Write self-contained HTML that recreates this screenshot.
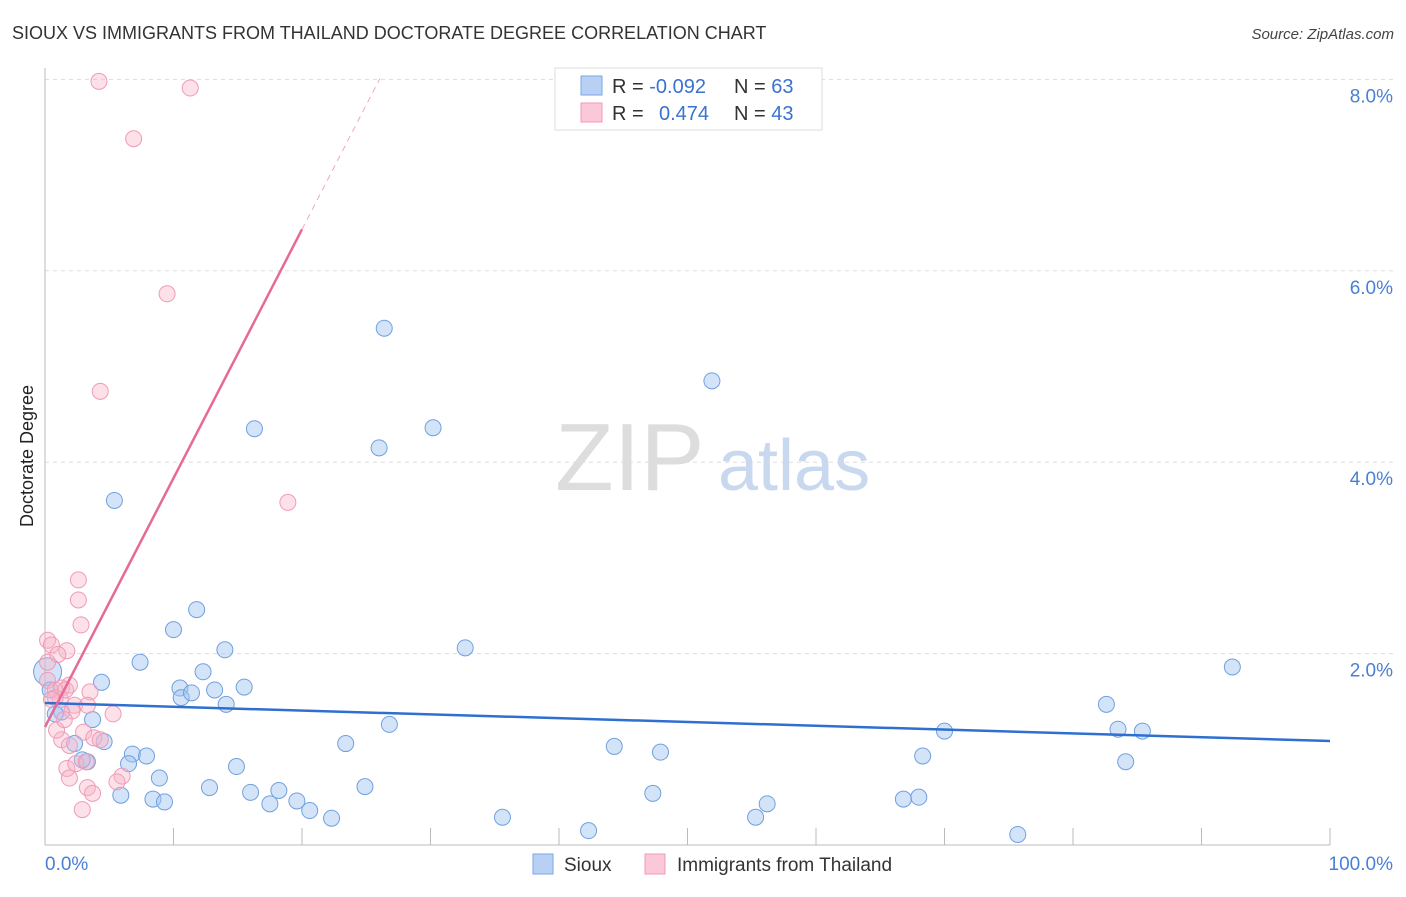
<!DOCTYPE html>
<html><head><meta charset="utf-8"><style>
body{margin:0;background:#fff;font-family:"Liberation Sans",sans-serif}
svg text{font-family:"Liberation Sans",sans-serif}
</style></head><body>
<svg id="chart" width="1406" height="892" viewBox="0 0 1406 892" xmlns="http://www.w3.org/2000/svg">
<text x="12" y="39" font-size="18" fill="#333">SIOUX VS IMMIGRANTS FROM THAILAND DOCTORATE DEGREE CORRELATION CHART</text>
<text x="1394" y="39" font-size="15" fill="#444" text-anchor="end" font-style="italic">Source: ZipAtlas.com</text>
<g id="grid"></g>
<g><text x="555" y="490" font-size="96" font-family="Liberation Serif" fill="#ddd">ZIP</text><text x="718" y="490" font-size="72" fill="#c8d8ee">atlas</text></g>
<text transform="translate(33,456) rotate(-90)" font-size="18" fill="#222" text-anchor="middle">Doctorate Degree</text>
<g id="marks"></g>
<g>
<rect x="555" y="68" width="267" height="62" fill="#fff" stroke="#ddd"/>
<rect x="581" y="76" width="21" height="19" fill="#b8d0f4" stroke="#7aa6e6"/>
<rect x="581" y="103" width="21" height="19" fill="#fac8d6" stroke="#f09ab8"/>
<text x="612" y="93" font-size="20" fill="#333">R = <tspan fill="#3a72d0">-0.092</tspan><tspan x="734">N = </tspan><tspan fill="#3a72d0">63</tspan></text>
<text x="612" y="120" font-size="20" fill="#333">R = <tspan x="659" fill="#3a72d0">0.474</tspan><tspan x="734">N = </tspan><tspan fill="#3a72d0">43</tspan></text>
</g>
<g>
<rect x="533" y="854" width="20" height="20" fill="#b8d0f4" stroke="#7aa6e6"/>
<text x="564" y="871" font-size="19" fill="#333">Sioux</text>
<rect x="645" y="854" width="20" height="20" fill="#fac8d6" stroke="#f09ab8"/>
<text x="677" y="871" font-size="19" fill="#333">Immigrants from Thailand</text>
</g>
</svg>
<script>
const yTicks=[2,4,6,8];
const yTickLabels=["2.0%","4.0%","6.0%","8.0%"];
const xTickCount=10;
const blueX=[26.4,51.9,16.3,30.2,26.0,5.4,11.8,10.0,32.7,14.0,7.4,92.4,12.3,4.4,15.5,10.5,13.2,10.6,11.4,14.1,82.6,1.3,0.8,3.7,26.8,70.0,83.5,85.4,4.6,2.3,23.4,44.3,6.8,7.9,47.9,68.3,3.3,2.9,6.5,14.9,84.1,8.9,24.9,12.8,18.2,16.0,5.9,47.3,8.4,9.3,19.6,68.0,66.8,17.5,56.2,20.6,22.3,35.6,55.3,42.3,75.7,0.2,0.4];
const blueY=[5.40,4.85,4.35,4.36,4.15,3.60,2.46,2.25,2.06,2.04,1.91,1.86,1.81,1.70,1.65,1.64,1.62,1.54,1.59,1.47,1.47,1.39,1.37,1.31,1.26,1.19,1.21,1.19,1.08,1.06,1.06,1.03,0.95,0.93,0.97,0.93,0.87,0.89,0.85,0.82,0.87,0.70,0.61,0.60,0.57,0.55,0.52,0.54,0.48,0.45,0.46,0.50,0.48,0.43,0.43,0.36,0.28,0.29,0.29,0.15,0.11,1.81,1.62];
const pinkX=[4.2,11.3,6.9,9.5,4.3,18.9,2.6,2.6,2.8,0.2,0.5,1.7,0.2,0.8,1.3,1.9,3.5,1.2,2.3,3.3,2.1,5.3,0.8,3.0,3.8,1.3,1.9,1.7,2.4,3.2,1.9,6.0,5.6,3.3,3.7,2.9,0.2,1.0,1.6,0.5,4.3,0.9,1.5];
const pinkY=[7.98,7.91,7.38,5.76,4.74,3.58,2.77,2.56,2.30,2.14,2.09,2.03,1.72,1.62,1.64,1.67,1.60,1.52,1.46,1.46,1.40,1.37,1.54,1.18,1.12,1.10,1.04,0.80,0.85,0.87,0.70,0.72,0.66,0.60,0.54,0.37,1.91,1.99,1.62,1.52,1.10,1.20,1.31];
const blueTrend=[1.484,1.087];
const pinkTrend=[1.233,0.26];
const NS="http://www.w3.org/2000/svg";
const X=v=>45+v*12.85, Y=v=>845-v*95.7;
function mk(t,a,p){const e=document.createElementNS(NS,t);for(const k in a)e.setAttribute(k,a[k]);p.appendChild(e);return e;}
const grid=document.getElementById('grid'),marks=document.getElementById('marks');
yTicks.forEach((t,i)=>{
 const l=mk('line',{x1:45,x2:1393,y1:Y(t),y2:Y(t),stroke:'#ddd','stroke-dasharray':'4,4'},grid);
 
 
 const tx=mk('text',{x:1393,y:Y(t)+23,'font-size':19,fill:'#4a7fd4','text-anchor':'end'},grid);
 tx.textContent=yTickLabels[i];
 
 
});
mk('line',{x1:45,x2:45,y1:68,y2:845,stroke:'#bbb'},grid);
mk('line',{x1:45,x2:1330,y1:845,y2:845,stroke:'#bbb'},grid);
for(let i=0;i<=xTickCount;i++){const x=X(i*100/xTickCount);const t=mk('line',{x1:x,x2:x,y1:828,y2:845,stroke:'#bbb'},grid);}
const x0=mk('text',{x:45,y:870,'font-size':19,fill:'#4a7fd4'},grid);x0.textContent='0.0%';


const x1=mk('text',{x:1393,y:870,'font-size':19,fill:'#4a7fd4','text-anchor':'end'},grid);x1.textContent='100.0%';


blueX.forEach((v,i)=>{const c=mk('circle',{cx:X(v),cy:Y(blueY[i]),r:i>=61?(i==61?14:8):8,fill:'rgba(160,196,240,0.45)',stroke:'#6fa0e0','stroke-width':1},marks);
 
 });
pinkX.forEach((v,i)=>{const c=mk('circle',{cx:X(v),cy:Y(pinkY[i]),r:8,fill:'rgba(248,180,200,0.4)',stroke:'#f09ab8','stroke-width':1},marks);
 
 });
const bl=mk('line',{x1:X(0),y1:Y(blueTrend[0]),x2:X(100),y2:Y(blueTrend[1]),stroke:'#2f6fd0','stroke-width':2.5},marks);


const pe=20,pd=26.07;
const pl=mk('line',{x1:X(0),y1:Y(pinkTrend[0]),x2:X(pe),y2:Y(pinkTrend[0]+pinkTrend[1]*pe),stroke:'#e66a98','stroke-width':2.5},marks);


const pdl=mk('line',{x1:X(pe),y1:Y(pinkTrend[0]+pinkTrend[1]*pe),x2:X(pd),y2:Y(pinkTrend[0]+pinkTrend[1]*pd),stroke:'#f0a8c0','stroke-width':1,'stroke-dasharray':'6,5'},marks);


</script>
</body></html>
